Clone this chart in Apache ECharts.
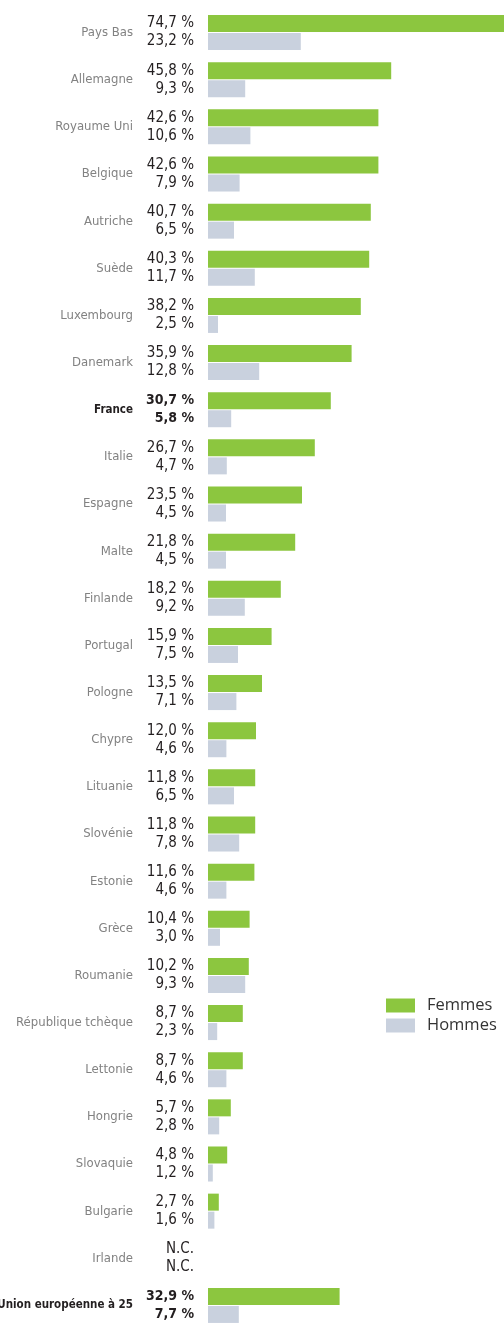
<!DOCTYPE html>
<html>
<head>
<meta charset="utf-8">
<script src="https://cdn.jsdelivr.net/npm/echarts@6/dist/echarts.min.js"></script>
<style>
  html, body { margin: 0; padding: 0; background: #fff; }
  #chart { width: 504px; height: 1331px; }
</style>
</head>
<body>
<div id="chart"></div>
<script>
// categories, top to bottom
const countries = ['Pays Bas', 'Allemagne', 'Royaume Uni', 'Belgique', 'Autriche', 'Suède', 'Luxembourg',
  'Danemark', 'France', 'Italie', 'Espagne', 'Malte', 'Finlande', 'Portugal', 'Pologne', 'Chypre',
  'Lituanie', 'Slovénie', 'Estonie', 'Grèce', 'Roumanie', 'République tchèque', 'Lettonie', 'Hongrie',
  'Slovaquie', 'Bulgarie', 'Irlande', 'Union européenne à 25']
// null = N.C.
const femmes = [74.7, 45.8, 42.6, 42.6, 40.7, 40.3, 38.2, 35.9, 30.7, 26.7, 23.5, 21.8, 18.2, 15.9,
  13.5, 12.0, 11.8, 11.8, 11.6, 10.4, 10.2, 8.7, 8.7, 5.7, 4.8, 2.7, null, 32.9]
const hommes = [23.2, 9.3, 10.6, 7.9, 6.5, 11.7, 2.5, 12.8, 5.8, 4.7, 4.5, 4.5, 9.2, 7.5,
  7.1, 4.6, 6.5, 7.8, 4.6, 3.0, 9.3, 2.3, 4.6, 2.8, 1.2, 1.6, null, 7.7]
const boldRows = ['France', 'Union européenne à 25']

const FONT = '"DejaVu Sans Condensed", sans-serif'

function toData(values) {
  return values.map((v, i) => {
    const bold = boldRows.includes(countries[i])
    return {
      value: v === null ? 0 : v,
      label: {
        formatter: v === null ? 'N.C.' : v.toFixed(1).replace('.', ',') + ' %',
        fontWeight: bold ? 'bold' : 'normal',
        fontSize: bold ? 14 : 15
      }
    }
  })
}

const valueLabel = {
  show: true,
  position: 'left',
  distance: 14,
  color: '#231f20',
  fontSize: 15,
  fontFamily: FONT
}

const chart = echarts.init(document.getElementById('chart'))
chart.setOption({
  animation: false,
  legend: {
    orient: 'vertical',
    left: 381,
    top: 992,
    itemWidth: 29,
    itemHeight: 14,
    itemGap: 3,
    icon: 'rect',
    textStyle: { color: '#333', fontSize: 16.5, fontFamily: '"Open Sans", sans-serif', padding: [0, 0, 0, 7] }
  },
  grid: { left: 208, right: 0, top: 9, bottom: 2, outerBoundsMode: 'none' },
  xAxis: {
    type: 'value',
    min: 0,
    max: 74,
    show: false
  },
  yAxis: {
    type: 'category',
    inverse: true,
    data: countries,
    axisLine: { show: false },
    axisTick: { show: false },
    axisLabel: {
      margin: 75,
      fontSize: 13,
      fontFamily: FONT,
      color: '#828282',
      formatter: (v) => boldRows.includes(v) ? '{b|' + v + '}' : v,
      rich: {
        b: { fontWeight: 'bold', color: '#231f20', fontSize: 11.5, fontFamily: FONT }
      }
    }
  },
  series: [
    {
      name: 'Femmes',
      type: 'bar',
      data: toData(femmes),
      itemStyle: { color: '#8cc63f' },
      barWidth: 17,
      barGap: '6%',
      label: valueLabel
    },
    {
      name: 'Hommes',
      type: 'bar',
      data: toData(hommes),
      itemStyle: { color: '#c9d1de' },
      barWidth: 17,
      label: valueLabel
    }
  ]
})
</script>
</body>
</html>
